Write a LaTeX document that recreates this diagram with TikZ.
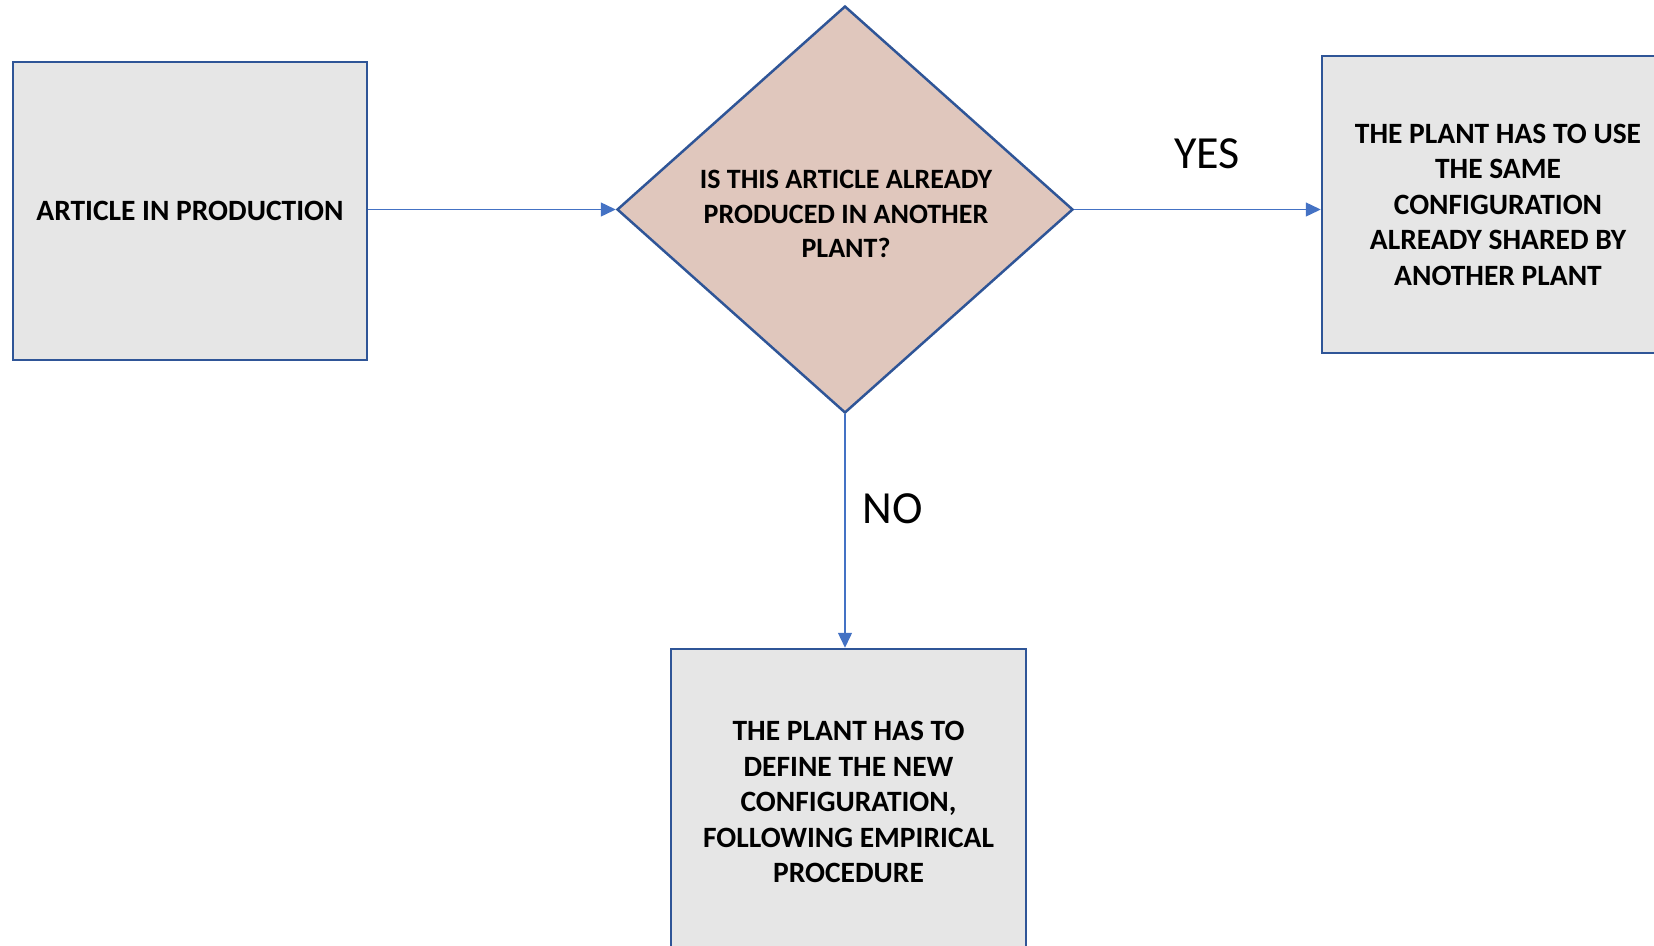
\documentclass[tikz,border=0pt]{standalone}
\usepackage{fontspec}
\setmainfont{Carlito}
\usetikzlibrary{shapes.geometric,arrows.meta}
\definecolor{boxline}{RGB}{47,85,151}
\definecolor{conn}{RGB}{68,114,196}
\definecolor{boxfill}{RGB}{230,230,230}
\definecolor{diafill}{RGB}{224,199,189}
\begin{document}
\begin{tikzpicture}[x=1pt,y=-1pt,
  procbox/.style={draw=boxline, line width=2.5pt, fill=boxfill, rectangle, inner sep=0pt,
    minimum width=354pt, align=center, font=\bfseries\fontsize{29.5}{35.5}\selectfont},
  decision/.style={draw=boxline, line width=2.5pt, fill=diafill, diamond, inner sep=0pt,
    minimum width=456pt, minimum height=407pt},
  decisiontext/.style={align=center, inner sep=0pt, font=\bfseries\fontsize{28}{34.5}\selectfont},
  connector/.style={draw=conn, line width=1.4pt, -{Triangle[length=15pt,width=14pt]}},
  answer/.style={font=\fontsize{46}{52}\selectfont, inner sep=0pt}
]
\useasboundingbox (0,0) rectangle (1654,945);
\node[procbox, minimum height=298pt] (start) at (190,211) {ARTICLE IN PRODUCTION};
\node[decision] (q) at (845,209.5) {};
\node[decisiontext] (qtext) at (846,214) {IS THIS ARTICLE ALREADY\\PRODUCED IN ANOTHER\\PLANT?};
\node[procbox, minimum height=297pt, minimum width=352pt] (yes) at (1498,204.5)
  {THE PLANT HAS TO USE\\THE SAME\\CONFIGURATION\\ALREADY SHARED BY\\ANOTHER PLANT};
\node[procbox, minimum height=306pt, minimum width=355pt] (no) at (848.5,802)
  {THE PLANT HAS TO\\DEFINE THE NEW\\CONFIGURATION,\\FOLLOWING EMPIRICAL\\PROCEDURE};
\draw[connector] (q.west -| start.east) -- (q.west);
\draw[connector] (q.east) -- (q.east -| yes.west);
\draw[connector] (q.south) -- (q.south |- no.north);
\node[answer] (yeslbl) at (1207,154) {YES};
\node[answer] (nolbl) at (893,509) {NO};
\end{tikzpicture}
\end{document}
